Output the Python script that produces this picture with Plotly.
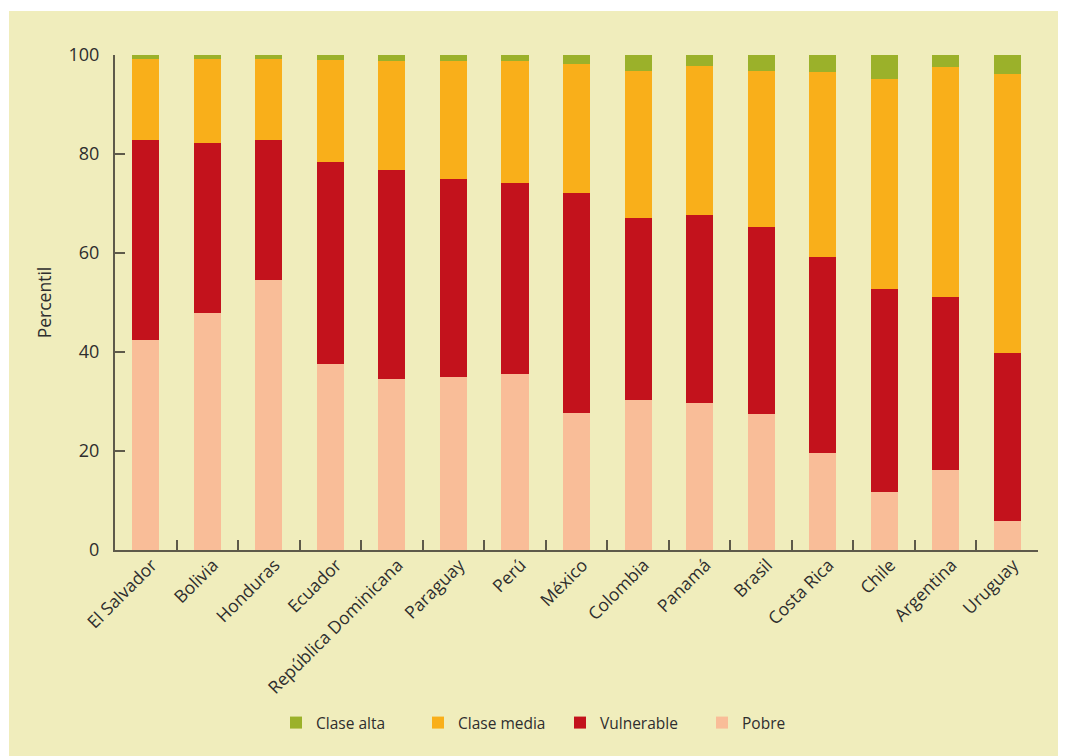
import plotly.graph_objects as go

# ===============================
# Datos (percentil por clase)
# ===============================
paises = [
    "El Salvador", "Bolivia", "Honduras", "Ecuador", "República Dominicana",
    "Paraguay", "Perú", "México", "Colombia", "Panamá", "Brasil",
    "Costa Rica", "Chile", "Argentina", "Uruguay",
]
pobre = [42.4, 47.9, 54.5, 37.6, 34.5, 35.0, 35.6, 27.7, 30.3, 29.7, 27.5, 19.6, 11.7, 16.2, 5.9]
vulnerable = [40.4, 34.3, 28.3, 40.8, 42.3, 39.9, 38.5, 44.4, 36.8, 38.0, 37.8, 39.6, 41.0, 34.9, 33.9]
clase_media = [16.4, 17.0, 16.4, 20.6, 22.0, 23.9, 24.7, 26.1, 29.7, 30.1, 31.5, 37.4, 42.5, 46.5, 56.4]
clase_alta = [0.8, 0.8, 0.8, 1.0, 1.2, 1.2, 1.2, 1.8, 3.2, 2.2, 3.2, 3.4, 4.8, 2.4, 3.8]

y_ticks = [0, 20, 40, 60, 80, 100]

BG = "#F0EDBC"
AXIS = "#5E5A4A"
TEXT = "#2E2E2E"
FONT = "Open Sans, sans-serif"

series = [
    ("Pobre", pobre, "#F9BD98"),
    ("Vulnerable", vulnerable, "#C3121C"),
    ("Clase media", clase_media, "#F9AF1A"),
    ("Clase alta", clase_alta, "#9BB12A"),
]

fig = go.Figure()
for name, vals, color in series:
    fig.add_trace(
        go.Bar(
            x=paises,
            y=vals,
            name=name,
            marker=dict(color=color, line=dict(width=0)),
        )
    )

# la página tiene 8px de margen: se compensa en los márgenes
L, R, T, B = 107, 36, 47, 214
pw, ph = 1066 - L - R, 756 - T - B
fig.add_shape(
    type="rect",
    xref="paper",
    yref="paper",
    x0=-(L - 1) / pw,
    x1=1 + R / pw,
    y0=-B / ph,
    y1=1 + (T - 3) / ph,
    fillcolor=BG,
    line=dict(width=0),
    layer="below",
)

fig.update_layout(
    width=1066,
    height=756,
    barmode="stack",
    bargap=0.56,
    paper_bgcolor="white",
    plot_bgcolor="rgba(0,0,0,0)",
    font=dict(family=FONT, size=15, color=TEXT),
    margin=dict(l=L, r=R, t=T, b=B),
    showlegend=True,
    legend=dict(
        orientation="h",
        traceorder="reversed",
        x=161 / pw,
        xanchor="left",
        y=-173 / ph,
        yanchor="middle",
        entrywidth=97,
        entrywidthmode="pixels",
        font=dict(size=15.5, color=TEXT),
        bgcolor="rgba(0,0,0,0)",
    ),
    xaxis=dict(
        showline=True,
        linecolor=AXIS,
        linewidth=2,
        ticks="inside",
        tickson="boundaries",
        ticklen=10,
        tickwidth=1.5,
        tickcolor=AXIS,
        tickangle=-45,
        tickfont=dict(size=17.5, color=TEXT),
        ticklabelstandoff=-4,
        ticklabelshift=6,
        showgrid=False,
    ),
    yaxis=dict(
        range=[0, 100],
        tickvals=y_ticks,
        showline=True,
        linecolor=AXIS,
        linewidth=2,
        ticks="inside",
        ticklen=10,
        tickwidth=1.5,
        tickcolor=AXIS,
        tickfont=dict(size=18, color=TEXT),
        ticklabelstandoff=10,
        showgrid=False,
        zeroline=False,
        title=dict(text="Percentil", font=dict(size=17.5, color=TEXT), standoff=12),
    ),
)

fig.write_html("out.html")
